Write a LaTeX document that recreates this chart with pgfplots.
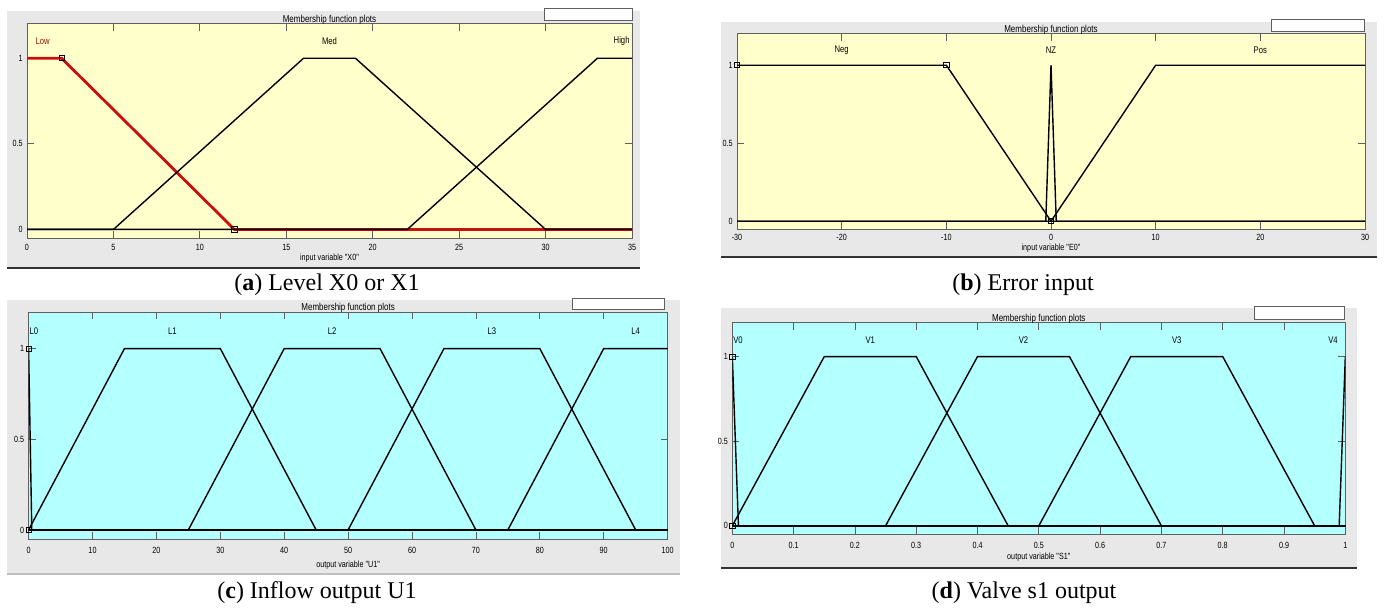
\documentclass[border=0pt]{standalone}
\usepackage{fontspec}
\setmainfont{Liberation Serif}
\newfontfamily\mlfont[FakeStretch=0.8]{Liberation Sans}
\usepackage{pgfplots}
\pgfplotsset{compat=1.18}

\definecolor{winbg}{RGB}{232,232,232}
\definecolor{mfyellow}{RGB}{255,255,204}
\definecolor{mfcyan}{RGB}{180,255,255}
\definecolor{axgray}{RGB}{95,95,95}
\definecolor{mfred}{RGB}{200,16,16}

\newcommand\tickfont{\mlfont\fontsize{4.5}{5}\selectfont}
\newcommand\mffont{\mlfont\fontsize{4.8}{5.5}\selectfont}

\pgfplotsset{
  mfaxis/.style={
    scale only axis, anchor=south west,
    ymin=-0.05, ymax=1.2, ytick={0,0.5,1},
    axis line style={axgray, line width=0.5pt},
    major tick style={axgray, line width=0.4pt},
    major tick length=3.5pt,
    tick label style={font=\tickfont},
    /pgf/number format/assume math mode=true,
    yticklabel style={anchor=east, inner sep=0.5pt, xshift=-1.5pt},
    label style={font=\tickfont},
    title style={font=\mlfont\fontsize{5}{6}\selectfont, at={(0.5,1)}, anchor=center, yshift=-4pt},
    title={Membership function plots},
  },
  mf/.style={black, line width=0.7pt},
  sq/.style={only marks, mark=square, mark size=1.3pt, mark options={black, line width=0.4pt}},
}

\begin{document}
\begin{tikzpicture}
\useasboundingbox (0,0) rectangle (692pt,-305pt);

% window frames
\fill[winbg] (3.5pt,-5.5pt) rectangle (320pt,-134pt);
\draw[black!80, line width=0.6pt] (3.5pt,-134pt) -- (320pt,-134pt);
\fill[winbg] (360.5pt,-11pt) rectangle (688.5pt,-128.5pt);
\draw[black!80, line width=0.6pt] (360.5pt,-128.5pt) -- (688.5pt,-128.5pt);
\fill[winbg] (3.5pt,-150pt) rectangle (340pt,-287pt);
\draw[black!25, line width=0.6pt] (3.5pt,-287pt) -- (340pt,-287pt);
\fill[winbg] (360.5pt,-154pt) rectangle (678.5pt,-284pt);
\draw[black!80, line width=0.6pt] (360.5pt,-284pt) -- (678.5pt,-284pt);

\draw[axgray, fill=white, line width=0.5pt] (272pt,-4.5pt) rectangle (316pt,-10.5pt);
\draw[axgray, fill=white, line width=0.5pt] (635.5pt,-10pt) rectangle (682pt,-15.8pt);
\draw[axgray, fill=white, line width=0.5pt] (286pt,-149pt) rectangle (332pt,-154.5pt);
\draw[axgray, fill=white, line width=0.5pt] (627.3pt,-153.3pt) rectangle (672.2pt,-159.5pt);

% (a) Level X0 or X1
\begin{axis}[mfaxis, at={(13.5pt,-119pt)}, width=302.5pt, height=107pt,
  axis background/.style={fill=mfyellow},
  xmin=0, xmax=35, xtick={0,5,...,35},
  xticklabel style={anchor=center, yshift=-4.85pt},
  xlabel={input variable "X0"},
  xlabel style={at={(axis description cs:0.5,0)}, anchor=center, yshift=-10pt}]
\addplot[mfred, line width=1.4pt] coordinates {(0,1) (2,1) (12,0) (35,0)};
\addplot[mf] coordinates {(0,0) (5,0) (16,1) (19,1) (30,0) (35,0)};
\addplot[mf] coordinates {(0,0) (22,0) (33,1) (35,1)};
\addplot[sq] coordinates {(2,1) (12,0)};
\node[font=\mffont, text=mfred!80!black] at (axis cs:0.9,1.1) {Low};
\node[font=\mffont] at (axis cs:17.5,1.1) {Med};
\node[font=\mffont] at (axis cs:34.4,1.1) {High};
\end{axis}

% (b) Error input
\begin{axis}[mfaxis, at={(368.5pt,-114.5pt)}, width=314pt, height=97.5pt,
  axis background/.style={fill=mfyellow},
  xmin=-30, xmax=30, xtick={-30,-20,...,30},
  xticklabel style={anchor=center, yshift=-4.35pt},
  xlabel={input variable "E0"},
  xlabel style={at={(axis description cs:0.5,0)}, anchor=center, yshift=-9.5pt}]
\addplot[mf] coordinates {(-30,1) (-10,1) (0,0) (30,0)};
\addplot[mf] coordinates {(-30,0) (-0.5,0) (0,1) (0.5,0) (30,0)};
\addplot[mf] coordinates {(-30,0) (0,0) (10,1) (30,1)};
\addplot[sq] coordinates {(-30,1) (-10,1) (0,0)};
\node[font=\mffont] at (axis cs:-20,1.094) {Neg};
\node[font=\mffont] at (axis cs:0,1.094) {NZ};
\node[font=\mffont] at (axis cs:20,1.094) {Pos};
\end{axis}

% (c) Inflow output U1
\begin{axis}[mfaxis, at={(14.3pt,-269.5pt)}, width=319.5pt, height=113.35pt,
  axis background/.style={fill=mfcyan},
  xmin=0, xmax=100, xtick={0,10,...,100},
  xticklabel style={anchor=center, yshift=-5.5pt},
  xlabel={output variable "U1"},
  xlabel style={at={(axis description cs:0.5,0)}, anchor=center, yshift=-13pt}]
\addplot[mf] coordinates {(0,1) (0.5,0) (100,0)};
\addplot[mf] coordinates {(0,0) (15,1) (30,1) (45,0) (100,0)};
\addplot[mf] coordinates {(0,0) (25,0) (40,1) (55,1) (70,0) (100,0)};
\addplot[mf] coordinates {(0,0) (50,0) (65,1) (80,1) (95,0) (100,0)};
\addplot[mf] coordinates {(0,0) (75,0) (90,1) (100,1)};
\addplot[sq] coordinates {(0,1) (0,0)};
\node[font=\mffont, anchor=west, inner sep=0.3pt] at (axis cs:0,1.096) {L0};
\node[font=\mffont] at (axis cs:22.5,1.096) {L1};
\node[font=\mffont] at (axis cs:47.5,1.096) {L2};
\node[font=\mffont] at (axis cs:72.5,1.096) {L3};
\node[font=\mffont] at (axis cs:95,1.096) {L4};
\end{axis}

% (d) Valve s1 output
\begin{axis}[mfaxis, at={(366.15pt,-267.15pt)}, width=306.5pt, height=105.8pt,
  axis background/.style={fill=mfcyan},
  xmin=0, xmax=1, xtick={0,0.1,...,1},
  xticklabel style={anchor=center, yshift=-5.35pt},
  xlabel={output variable "S1"},
  xlabel style={at={(axis description cs:0.5,0)}, anchor=center, yshift=-11.5pt}]
\addplot[mf] coordinates {(0,1) (0.01,0) (1,0)};
\addplot[mf] coordinates {(0,0) (0.15,1) (0.3,1) (0.45,0) (1,0)};
\addplot[mf] coordinates {(0,0) (0.25,0) (0.4,1) (0.55,1) (0.7,0) (1,0)};
\addplot[mf] coordinates {(0,0) (0.5,0) (0.65,1) (0.8,1) (0.95,0) (1,0)};
\addplot[mf] coordinates {(0,0) (0.99,0) (1,1)};
\addplot[sq] coordinates {(0,1) (0,0)};
\node[font=\mffont, anchor=west, inner sep=0.3pt] at (axis cs:0,1.094) {V0};
\node[font=\mffont] at (axis cs:0.225,1.094) {V1};
\node[font=\mffont] at (axis cs:0.475,1.094) {V2};
\node[font=\mffont] at (axis cs:0.725,1.094) {V3};
\node[font=\mffont] at (axis cs:0.98,1.094) {V4};
\end{axis}

% captions
\node[font=\fontsize{12}{14}\selectfont] at (163.5pt,-142.5pt) {(\textbf{a}) Level X0 or X1};
\node[font=\fontsize{12}{14}\selectfont] at (511.5pt,-142.5pt) {(\textbf{b}) Error input};
\node[font=\fontsize{12}{14}\selectfont] at (158.5pt,-296.5pt) {(\textbf{c}) Inflow output U1};
\node[font=\fontsize{12}{14}\selectfont] at (512pt,-296.5pt) {(\textbf{d}) Valve s1 output};
\end{tikzpicture}
\end{document}
